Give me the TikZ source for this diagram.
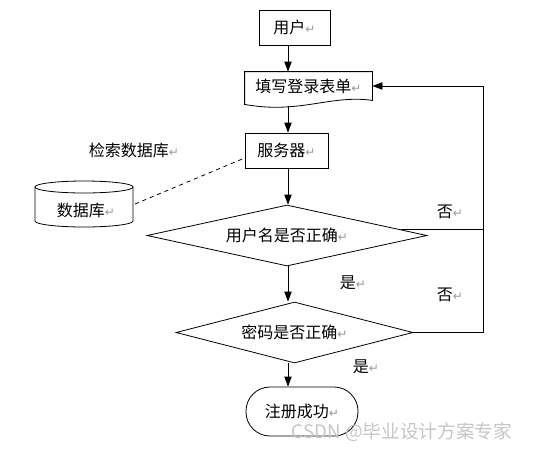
\documentclass[tikz,border=0pt]{standalone}
\usepackage{fontspec}
\setmainfont{Noto Sans CJK SC}
\newfontfamily\symfont{DejaVu Sans}
\usetikzlibrary{shapes.geometric,arrows.meta,calc}
\newcommand{\ret}{{\symfont\color{gray!80}\fontsize{9}{9}\selectfont ↵}}

\begin{document}
\begin{tikzpicture}[
            > = {Triangle[length=7.5pt,width=5.5pt]}, % arrow head style
            x = 0.75pt, y = -0.75pt, % one unit is one pixel
            font = \fontsize{12}{14}\selectfont,
            semithick % line style
        ]

        \tikzstyle{box}=[
            draw = black,
            inner sep = 0pt,
            minimum height = 26.25pt
        ]
        \tikzstyle{decision}=[
            diamond,
            draw = black,
            inner sep = 0pt,
            aspect = 4
        ]

        \useasboundingbox (0,0) rectangle (533,451);

        \coordinate (col) at (288,0);
        \coordinate (back) at (483,0);

        \node[box, minimum width=53.25pt] (user) at (294.5,27.5) {用户\ret};
        \node[inner sep=0pt, minimum width=95.25pt, minimum height=21pt] (form) at (308.5,86) {填写登录表单\ret};
        \draw (form.north west) -- (form.north east) -- (form.south east)
            .. controls +(-42,-6) and +(55,10) .. ($(form.south west)+(0,4)$) -- cycle;
        \node[box, minimum width=62.25pt] (server) at (286.5,150.5) {服务器\ret};
        \node[decision, minimum width=210pt, minimum height=45.75pt] (name) at (287,235.5) {用户名是否正确\ret};
        \node[decision, minimum width=177.75pt, minimum height=45.75pt] (pwd) at (294.5,332.5) {密码是否正确\ret};
        \node[draw, rounded corners=18pt, minimum width=84pt, minimum height=36.75pt] (success) at (302,411.5) {注册成功\ret};

        % database
        \draw (35,187) -- (35,221) arc[start angle=180, end angle=0, x radius=49, y radius=6] -- (133,187);
        \draw (84,187) ellipse [x radius=49, y radius=6];
        \node (db) at (86,210) {数据库\ret};
        \coordinate (dbside) at (135,204);

        \node (search) at (134,150) {检索数据库\ret};
        \node (no1) at (450,212) {否\ret};
        \node (no2) at (450,295) {否\ret};
        \node (yes1) at (353,283) {是\ret};
        \node (yes2) at (366,367) {是\ret};

        \path[->] (user.south -| col) edge (form.north -| col);
        \path[->] ($(form.south -| col)+(0,6)$) edge (server.north -| col);
        \path[->] (server.south -| col) edge (name.north -| col);
        \path[->] (name.south -| col) edge (pwd.north -| col);
        \path[->] (pwd.south -| col) edge (success.north -| col);

        \coordinate (nameout) at ($(name.east)+(-26,-6.5)$);
        \draw (nameout) -- (nameout -| back);
        \draw[->] (pwd.east) -| (form.east -| back) -- (form.east);

        \draw[dashed] (dbside) -- ($(server.west)+(0,7.5)$);

        \node[text=gray!45, font=\fontsize{14}{16}\selectfont] (mark) at (402,432) {CSDN @毕业设计方案专家};

%        \draw[red] (0,0) grid[step=50] (533,451);

    \end{tikzpicture}
\end{document}
